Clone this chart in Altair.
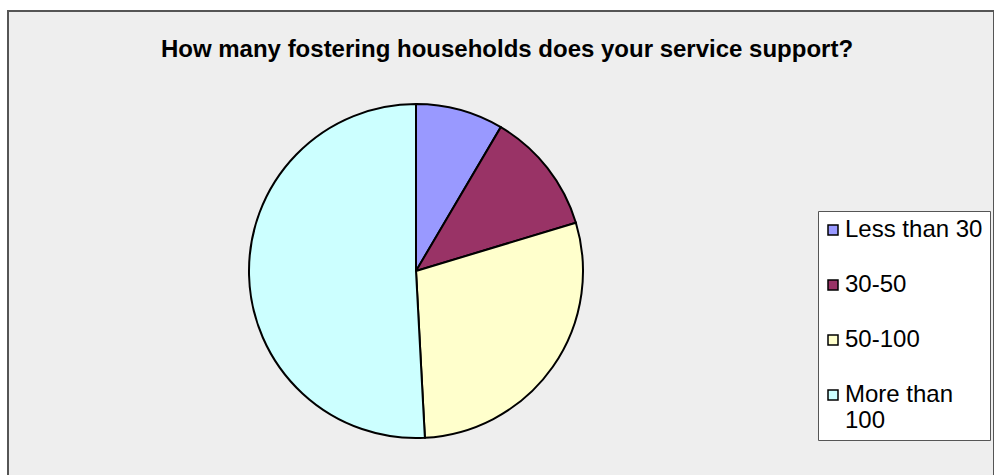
import altair as alt
import pandas as pd

categories = ["Less than 30", "30-50", "50-100", "More than 100"]
counts = [5, 7, 17, 30]
colors = ["#9999FF", "#993366", "#FFFFCC", "#CCFFFF"]

df = pd.DataFrame({"category": categories, "count": counts, "order": list(range(len(categories)))})

pie = alt.Chart(df).mark_arc(
    outerRadius=167, stroke="black", strokeWidth=2
).encode(
    theta=alt.Theta("count:Q", stack=True),
    order=alt.Order("order:Q", sort="ascending"),
    color=alt.Color(
        "category:N",
        sort=categories,
        scale=alt.Scale(domain=categories, range=colors),
        legend=alt.Legend(
            title=None,
            orient="none",
            legendX=810,
            legendY=200,
            fillColor="white",
            strokeColor="#555555",
            padding=7,
            symbolType="square",
            symbolSize=100,
            symbolOffset=-4,
            symbolStrokeColor="black",
            symbolStrokeWidth=1.5,
            symbolOpacity=1,
            labelFont="Liberation Sans",
            labelFontSize=24,
            labelColor="black",
            labelOffset=0,
            rowPadding=31,
            labelLimit=400,
            labelExpr="datum.label == 'More than 100' ? ['More than', '100'] : datum.label + '    '",
        ),
    ),
    x=alt.value(408),
    y=alt.value(260),
).properties(
    width=986,
    height=470,
    title=alt.TitleParams(
        "How many fostering households does your service support?",
        font="Liberation Sans",
        fontSize=24,
        fontWeight="bold",
        color="black",
        anchor="middle",
        offset=0,
        dy=51,
        dx=6,
    ),
    padding={"left": 8, "top": 11, "right": 0, "bottom": 0},
    autosize=alt.AutoSizeParams(type="none"),
).configure(
    background="white",
    view=alt.ViewConfig(fill="#EEEEEE", stroke="#555555", strokeWidth=2),
)

chart = pie
chart.save("out.html", embed_options={"renderer": "svg", "actions": False})
